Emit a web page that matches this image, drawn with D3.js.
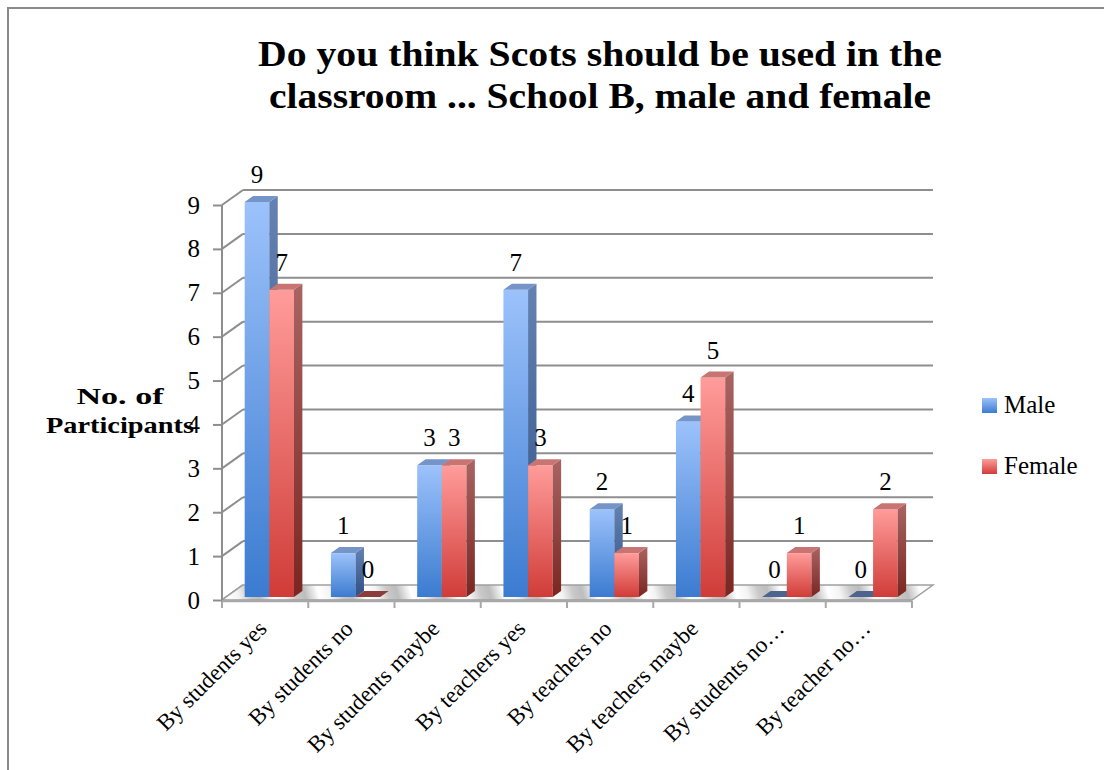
<!DOCTYPE html>
<html><head><meta charset="utf-8">
<script src="https://cdn.jsdelivr.net/npm/d3@7"></script>
<style>html,body{margin:0;padding:0;background:#fff;} svg{display:block;}</style>
</head><body>
<svg id="c" width="1104" height="770"></svg>
<script>
const categories = ["By students yes","By students no","By students maybe","By teachers yes","By teachers no","By teachers maybe","By students no\u2026","By teacher no\u2026"];
const seriesNames = ["Male","Female"];
const maleValues = [9,1,3,7,2,4,0,0];
const femaleValues = [7,0,3,3,1,5,1,2];
const yTicks = [0,1,2,3,4,5,6,7,8,9];
const titleLines = ["Do you think Scots should be used in the","classroom ... School B, male and female"];
const yTitleLines = ["No. of","Participants"];

const svg = d3.select("#c");
const FONT = "'Liberation Serif', 'DejaVu Serif', serif";
const defs = svg.append("defs");

// frame
svg.append("path").attr("d","M8,770 L8,8 L1104,8").attr("fill","none").attr("stroke","#8a8a8a").attr("stroke-width",2);

// scales
const x0 = d3.scaleBand().domain(categories).range([222, 912]).paddingInner(0).paddingOuter(0);
const x1 = d3.scaleBand().domain(seriesNames).range([0, x0.bandwidth()]).paddingInner(0).paddingOuter(0.75);
const y = d3.scaleLinear().domain([0, 9]).range([600, 205]);
const DX = 21, DY = -15;
const P = (xf, yf, z) => [xf + DX*z, yf + DY*z];
const ZF = 0.2, ZB = 0.6;

// gradients
function lg(id, stops, x2, y2) {
  const g = defs.append("linearGradient").attr("id", id).attr("x1",0).attr("y1",0).attr("x2",x2).attr("y2",y2);
  stops.forEach(s => g.append("stop").attr("offset", s[0]).attr("stop-color", s[1]));
}
lg("mFront", [[0,"#9cc2fb"],[1,"#3b7bd0"]], 0, 1);
lg("mSide", [[0,"#6482b2"],[1,"#2f4f86"]], 0, 1);
lg("fFront", [[0,"#ff9c9a"],[1,"#d03c38"]], 0, 1);
lg("fSide", [[0,"#a96462"],[1,"#7a2622"]], 0, 1);
const colors = {
  Male: {front:"url(#mFront)", side:"url(#mSide)", top:"#7595c8", flat:"#4d6390"},
  Female: {front:"url(#fFront)", side:"url(#fSide)", top:"#c87472", flat:"#8c3c3a"}
};
const floorG = defs.append("linearGradient").attr("id","floorG").attr("gradientUnits","userSpaceOnUse")
  .attr("x1",0).attr("y1",0).attr("x2",43).attr("y2",-12).attr("spreadMethod","repeat");
[[0,"#bdbdbd"],[0.3,"#ffffff"],[0.55,"#f4f4f4"],[0.8,"#c8c8c8"],[1,"#bdbdbd"]].forEach(s=>floorG.append("stop").attr("offset",s[0]).attr("stop-color",s[1]));

const grid = svg.append("g");
const GRID = "#8e8e8e";
yTicks.forEach(t => {
  const a = P(222, y(t), 0), b = P(222, y(t), 1), c = P(912, y(t), 1);
  grid.append("line").attr("x1",a[0]).attr("y1",a[1]).attr("x2",b[0]).attr("y2",b[1]).attr("stroke",GRID).attr("stroke-width",2);
  if (t > 0) grid.append("line").attr("x1",b[0]).attr("y1",b[1]).attr("x2",c[0]).attr("y2",c[1]).attr("stroke",GRID).attr("stroke-width",2);
});
const fl = [P(222,y(0),0),P(912,y(0),0),P(912,y(0),1),P(222,y(0),1)];
grid.append("polygon").attr("points", fl.map(p=>p.join(",")).join(" ")).attr("fill","url(#floorG)").attr("stroke","#a0a0a0").attr("stroke-width",1.5);
grid.append("line").attr("x1",222).attr("y1",y(0)+1).attr("x2",912).attr("y2",y(0)+1).attr("stroke","#a8a8a8").attr("stroke-width",2.5);
grid.append("line").attr("x1",222).attr("y1",y(0)).attr("x2",222).attr("y2",y(9)).attr("stroke",GRID).attr("stroke-width",2);
const yAxis = d3.axisLeft(y).tickValues(yTicks).tickSize(9).tickPadding(13);
const ya = svg.append("g").attr("transform","translate(222,0)").call(yAxis);
ya.select(".domain").remove();
ya.selectAll(".tick line").attr("stroke",GRID).attr("stroke-width",2);
ya.selectAll(".tick text").attr("font-family",FONT).attr("font-size",25).attr("fill","#000");
const xTickPos = categories.map(c => x0(c)).concat([912]);
xTickPos.forEach(xp => grid.append("line").attr("x1",xp).attr("y1",y(0)+1).attr("x2",xp).attr("y2",y(0)+8).attr("stroke","#a8a8a8").attr("stroke-width",2));

// bars
const data = categories.map((c,i) => ({cat:c, vals:[{s:"Male", v:maleValues[i]},{s:"Female", v:femaleValues[i]}]}));
const barsG = svg.append("g");
const pts = arr => arr.map(p=>p.join(",")).join(" ");
data.forEach(d => {
  d.vals.forEach(b => {
    const xl = x0(d.cat) + x1(b.s), xr = xl + x1.bandwidth();
    const yt = y(b.v), yb = y(0);
    const col = colors[b.s];
    const g = barsG.append("g");
    if (b.v === 0) {
      g.append("polygon").attr("points", pts([P(xl,yb,ZF),P(xr,yb,ZF),P(xr,yb,ZB),P(xl,yb,ZB)])).attr("fill", col.flat);
    } else {
      const f0 = P(xl,yt,ZF);
      g.append("rect").attr("x",f0[0]).attr("y",f0[1]).attr("width",xr-xl).attr("height",yb-yt).attr("fill",col.front);
      g.append("polygon").attr("points", pts([P(xr,yt,ZF),P(xr,yt,ZB),P(xr,yb,ZB),P(xr,yb,ZF)])).attr("fill",col.side);
      g.append("polygon").attr("points", pts([P(xl,yt,ZF),P(xr,yt,ZF),P(xr,yt,ZB),P(xl,yt,ZB)])).attr("fill",col.top);
    }
    const c = P((xl+xr)/2, yt, ZF);
    g.append("text").attr("x", c[0]).attr("y", c[1]-19).attr("text-anchor","middle")
      .attr("font-family",FONT).attr("font-size",25).attr("fill","#000").text(b.v);
  });
});

// x labels
categories.forEach(c => {
  const cx = x0(c) + x0.bandwidth()/2;
  svg.append("text").attr("transform",`translate(${cx+3},${y(0)+30}) rotate(-45)`)
    .attr("text-anchor","end").attr("font-family",FONT).attr("font-size",23).attr("fill","#000").text(c);
});

// title
const tw = [684, 662];
titleLines.forEach((t,i) => {
  svg.append("text").attr("x",600).attr("y",66 + i*42).attr("text-anchor","middle")
    .attr("font-family",FONT).attr("font-weight","bold").attr("font-size",35)
    .attr("textLength", tw[i]).attr("lengthAdjust","spacingAndGlyphs").text(t);
});
// y title
const ytw = [87, 148];
yTitleLines.forEach((t,i) => {
  svg.append("text").attr("x",120).attr("y",404 + i*29).attr("text-anchor","middle")
    .attr("font-family",FONT).attr("font-weight","bold").attr("font-size",24)
    .attr("textLength", ytw[i]).attr("lengthAdjust","spacingAndGlyphs").text(t);
});

// legend
const lgd = svg.append("g");
[["Male","url(#mFront)",398],["Female","url(#fFront)",459]].forEach(r => {
  lgd.append("rect").attr("x",982).attr("y",r[2]).attr("width",15).attr("height",15).attr("fill",r[1]);
  lgd.append("text").attr("x",1004).attr("y",r[2]+15).attr("font-family",FONT).attr("font-size",25).text(r[0]);
});
</script>
</body></html>
